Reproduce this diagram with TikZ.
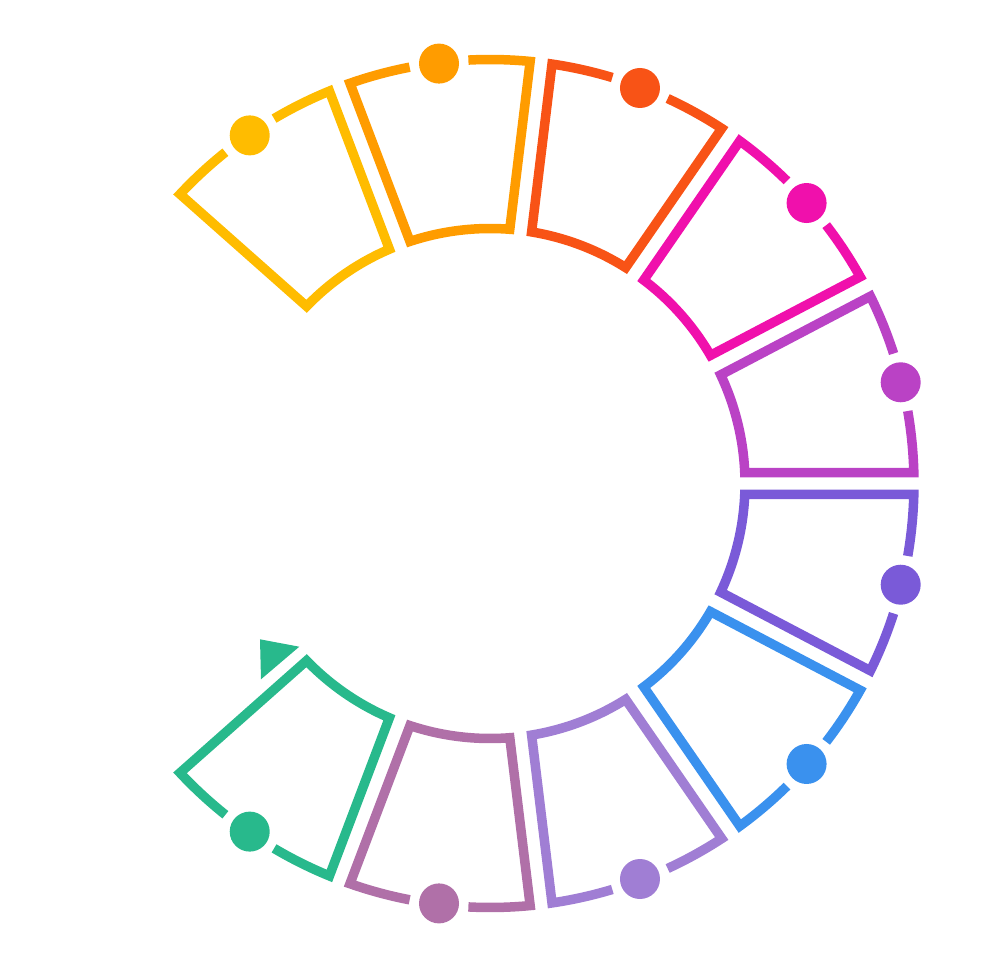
\documentclass[tikz,border=0pt]{standalone}
\definecolor{cTa}{HTML}{BA42C5}
\definecolor{cTb}{HTML}{F010AC}
\definecolor{cTc}{HTML}{F85316}
\definecolor{cTd}{HTML}{FF9C00}
\definecolor{cTe}{HTML}{FFBC00}
\definecolor{cBa}{HTML}{7A5AD8}
\definecolor{cBb}{HTML}{3A91EE}
\definecolor{cBc}{HTML}{A07ED4}
\definecolor{cBd}{HTML}{B070A8}
\definecolor{cBe}{HTML}{28B98C}
\tikzset{segline/.style={line width=9.5pt, line join=miter, miter limit=10}}
\newcommand\mysegment[3]{%
  \pgfmathsetmacro\ta{#1}%
  \pgfmathsetmacro\tb{#2}%
  \pgfmathsetmacro\tm{(\ta+\tb)/2}%
  \pgfmathsetmacro\gA{\tm+4}%
  \pgfmathsetmacro\gB{\tm-4}%
  \pgfmathsetmacro\oA{\ta+1.487}%
  \pgfmathsetmacro\oB{\tb-1.487}%
  \pgfmathsetmacro\iA{\ta+2.472}%
  \pgfmathsetmacro\iB{\tb-2.472}%
  \draw[segline,#3] (\gA:424) arc[start angle=\gA, end angle=\oB, radius=424]
     -- (\iB:255) arc[start angle=\iB, end angle=\iA, radius=255]
     -- (\oA:424) arc[start angle=\oA, end angle=\gB, radius=424];
  \fill[#3] (\tm:423) circle[radius=20];
}
\begin{document}
\begin{tikzpicture}[x=1pt,y=1pt]
\useasboundingbox (-490,-496.5) rectangle (490,483.5);
\def\p{27.6923}
\mysegment{0}{\p}{cTa}
\mysegment{\p}{2*\p}{cTb}
\mysegment{2*\p}{3*\p}{cTc}
\mysegment{3*\p}{4*\p}{cTd}
\mysegment{4*\p}{5*\p}{cTe}
\mysegment{-\p}{0}{cBa}
\mysegment{-2*\p}{-\p}{cBb}
\mysegment{-3*\p}{-2*\p}{cBc}
\mysegment{-4*\p}{-3*\p}{cBd}
\mysegment{-5*\p}{-4*\p}{cBe}
\fill[cBe] (-230,-155.8) -- (-190.7,-163.2) -- (-229,-195.8) -- cycle;
\end{tikzpicture}
\end{document}
